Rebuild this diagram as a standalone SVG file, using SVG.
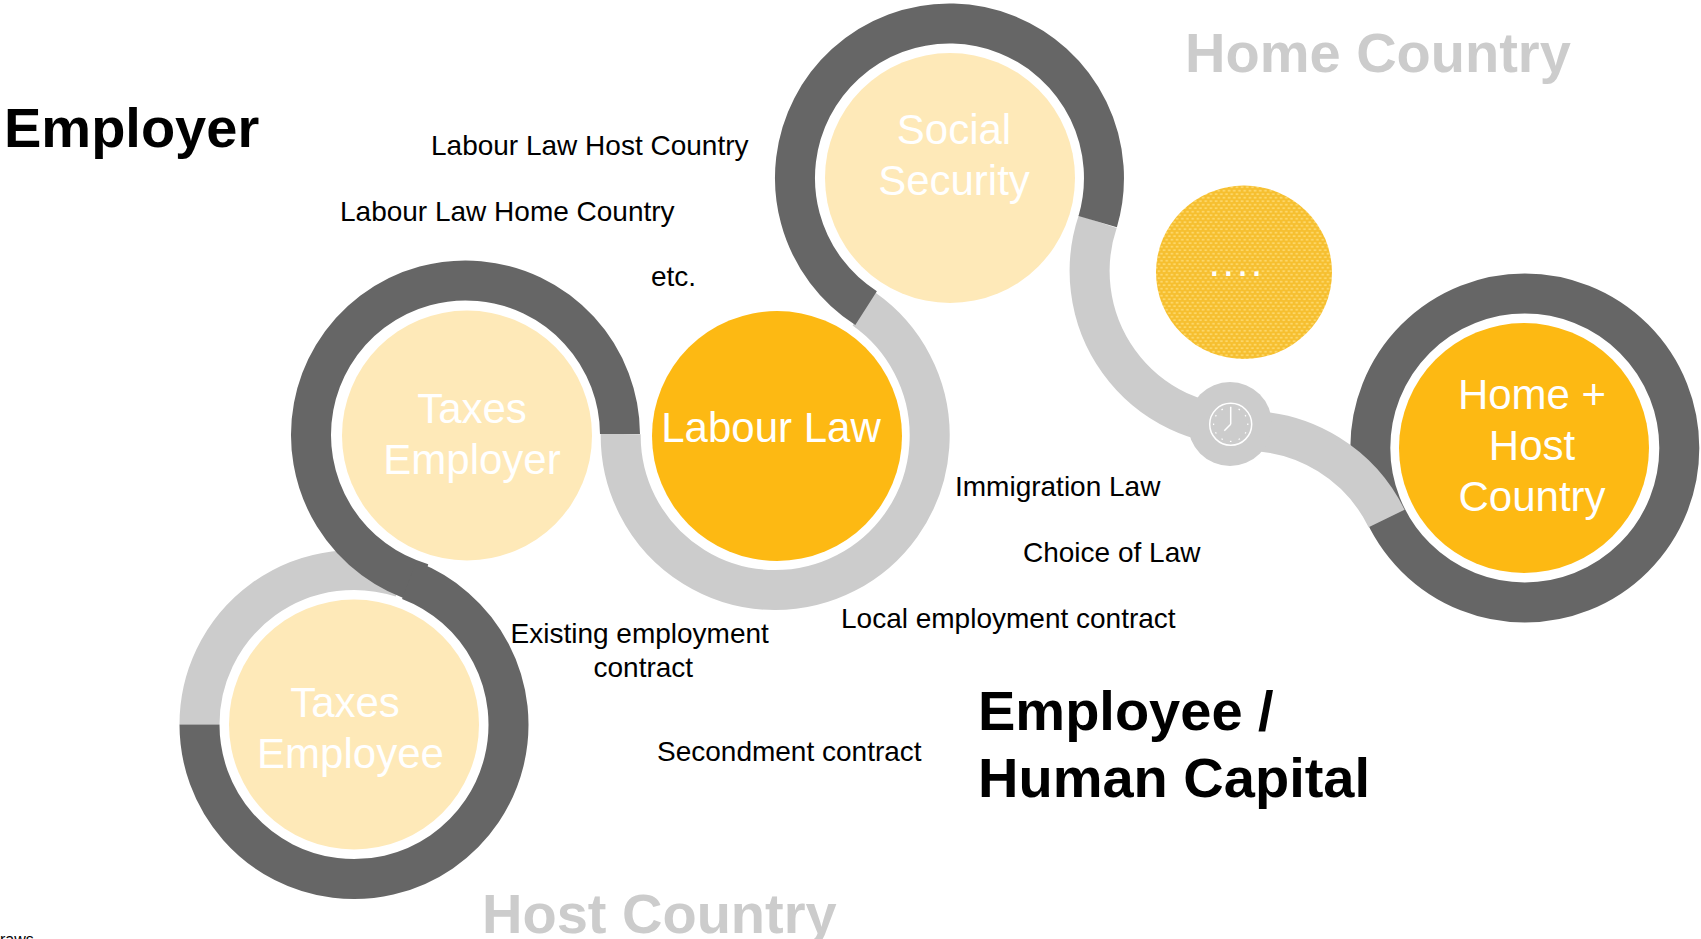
<svg xmlns="http://www.w3.org/2000/svg" width="1701" height="939" viewBox="0 0 1701 939">
<style>
text{font-family:"Liberation Sans",Arial,sans-serif}
.big{font-size:56px;font-weight:700;fill:#000}
.cnt{font-size:56px;font-weight:700;fill:#ccc}
.sm{font-size:28px;fill:#000}
.nd{font-size:42px;fill:#fff;text-anchor:middle}
.dark{fill:none;stroke:#666;stroke-width:40}
.grey{fill:none;stroke:#ccc;stroke-width:40}
.pale{fill:#fee9b8}
.gold{fill:#fdb913}
.tick{stroke:#fff;stroke-width:1.5}
</style>
<defs>
<pattern id="dots" width="5.2" height="7" patternUnits="userSpaceOnUse">
<rect width="5.2" height="7" fill="#f6bf2f"/>
<rect x="0.6" y="0.8" width="2.6" height="1.8" fill="#fdd768"/>
<rect x="3.2" y="4.3" width="2" height="1.8" fill="#fdd768"/>
<rect x="0" y="4.3" width="0.6" height="1.8" fill="#fdd768"/>
</pattern>
<path id="tk" d="M1230.700 407.800V406.600"/>
</defs>
<rect width="1701" height="939" fill="#fff"/>
<g id="connectors">
<circle class="dark" cx="1524.800" cy="448" r="154.500"/>
<path class="grey" d="M199.500 724.500A154.500 154.500 0 0 1 402 577.600"/>
<path class="grey" d="M864.100 309.200A154.500 154.500 0 1 1 620.700 434"/>
<path class="grey" d="M1097.700 221.600A155 155 0 0 0 1245 426"/>
<path class="grey" d="M1245 431A156 156 0 0 1 1386.600 518.500"/>
<path class="dark" d="M1097.700 221.600A154.500 154.500 0 1 0 866.100 308.100"/>
<path class="dark" d="M620 434A154.500 154.500 0 1 0 422.700 583.400"/>
<path class="dark" d="M409.200 580.300A154.500 154.500 0 1 1 199.500 724.500"/>
</g>
<g id="clock">
<circle cx="1230" cy="424" r="42" fill="#ccc"/>
<circle cx="1230.700" cy="424.300" r="21" fill="none" stroke="#fff" stroke-width="1.500"/>
<path d="M1230.700 424.300V406.700M1230.700 424.300L1224.300 430.700" fill="none" stroke="#fff" stroke-width="1.500"/>
<g class="tick">
<use href="#tk" transform="rotate(30 1230.700 424.300)"/>
<use href="#tk" transform="rotate(60 1230.700 424.300)"/>
<use href="#tk" transform="rotate(90 1230.700 424.300)"/>
<use href="#tk" transform="rotate(120 1230.700 424.300)"/>
<use href="#tk" transform="rotate(150 1230.700 424.300)"/>
<use href="#tk" transform="rotate(180 1230.700 424.300)"/>
<use href="#tk" transform="rotate(210 1230.700 424.300)"/>
<use href="#tk" transform="rotate(240 1230.700 424.300)"/>
<use href="#tk" transform="rotate(270 1230.700 424.300)"/>
<use href="#tk" transform="rotate(300 1230.700 424.300)"/>
<use href="#tk" transform="rotate(330 1230.700 424.300)"/>
</g>
</g>
<g id="social-security">
<circle class="pale" cx="950" cy="178" r="125"/>
<text class="nd" x="954" y="144">Social</text>
<text class="nd" x="954" y="195">Security</text>
</g>
<g id="labour-law">
<circle class="gold" cx="777" cy="436" r="125"/>
<text class="nd" x="771" y="442">Labour Law</text>
</g>
<g id="taxes-employer">
<circle class="pale" cx="467" cy="435.500" r="125"/>
<text class="nd" x="472" y="423">Taxes</text>
<text class="nd" x="472" y="474">Employer</text>
</g>
<g id="taxes-employee">
<circle class="pale" cx="354" cy="724.500" r="125"/>
<text class="nd" x="345" y="717">Taxes</text>
<text class="nd" x="350.500" y="768">Employee</text>
</g>
<g id="home-host">
<circle class="gold" cx="1524" cy="448" r="125"/>
<text class="nd" x="1532" y="409">Home +</text>
<text class="nd" x="1532" y="460">Host</text>
<text class="nd" x="1532" y="511">Country</text>
</g>
<g id="more">
<ellipse cx="1244" cy="272.300" rx="88" ry="86.700" fill="url(#dots)"/>
<text x="1208.500" y="275.500" font-size="42" fill="#fff" letter-spacing="2.400">....</text>
</g>
<text class="big" x="4" y="147">Employer</text>
<text class="big" x="978" y="730">Employee /</text>
<text class="big" x="978" y="797">Human Capital</text>
<text class="cnt" x="1185" y="72">Home Country</text>
<text class="cnt" x="482" y="933">Host Country</text>
<text class="sm" x="431" y="155">Labour Law Host Country</text>
<text class="sm" x="340" y="221">Labour Law Home Country</text>
<text class="sm" x="651" y="286">etc.</text>
<text class="sm" x="955" y="496">Immigration Law</text>
<text class="sm" x="1023" y="562">Choice of Law</text>
<text class="sm" x="841" y="628">Local employment contract</text>
<text class="sm" x="510.500" y="643">Existing employment</text>
<text class="sm" x="593.500" y="677">contract</text>
<text class="sm" x="657" y="761">Secondment contract</text>
<text x="0" y="945" font-size="16" fill="#000">raws</text>
</svg>
